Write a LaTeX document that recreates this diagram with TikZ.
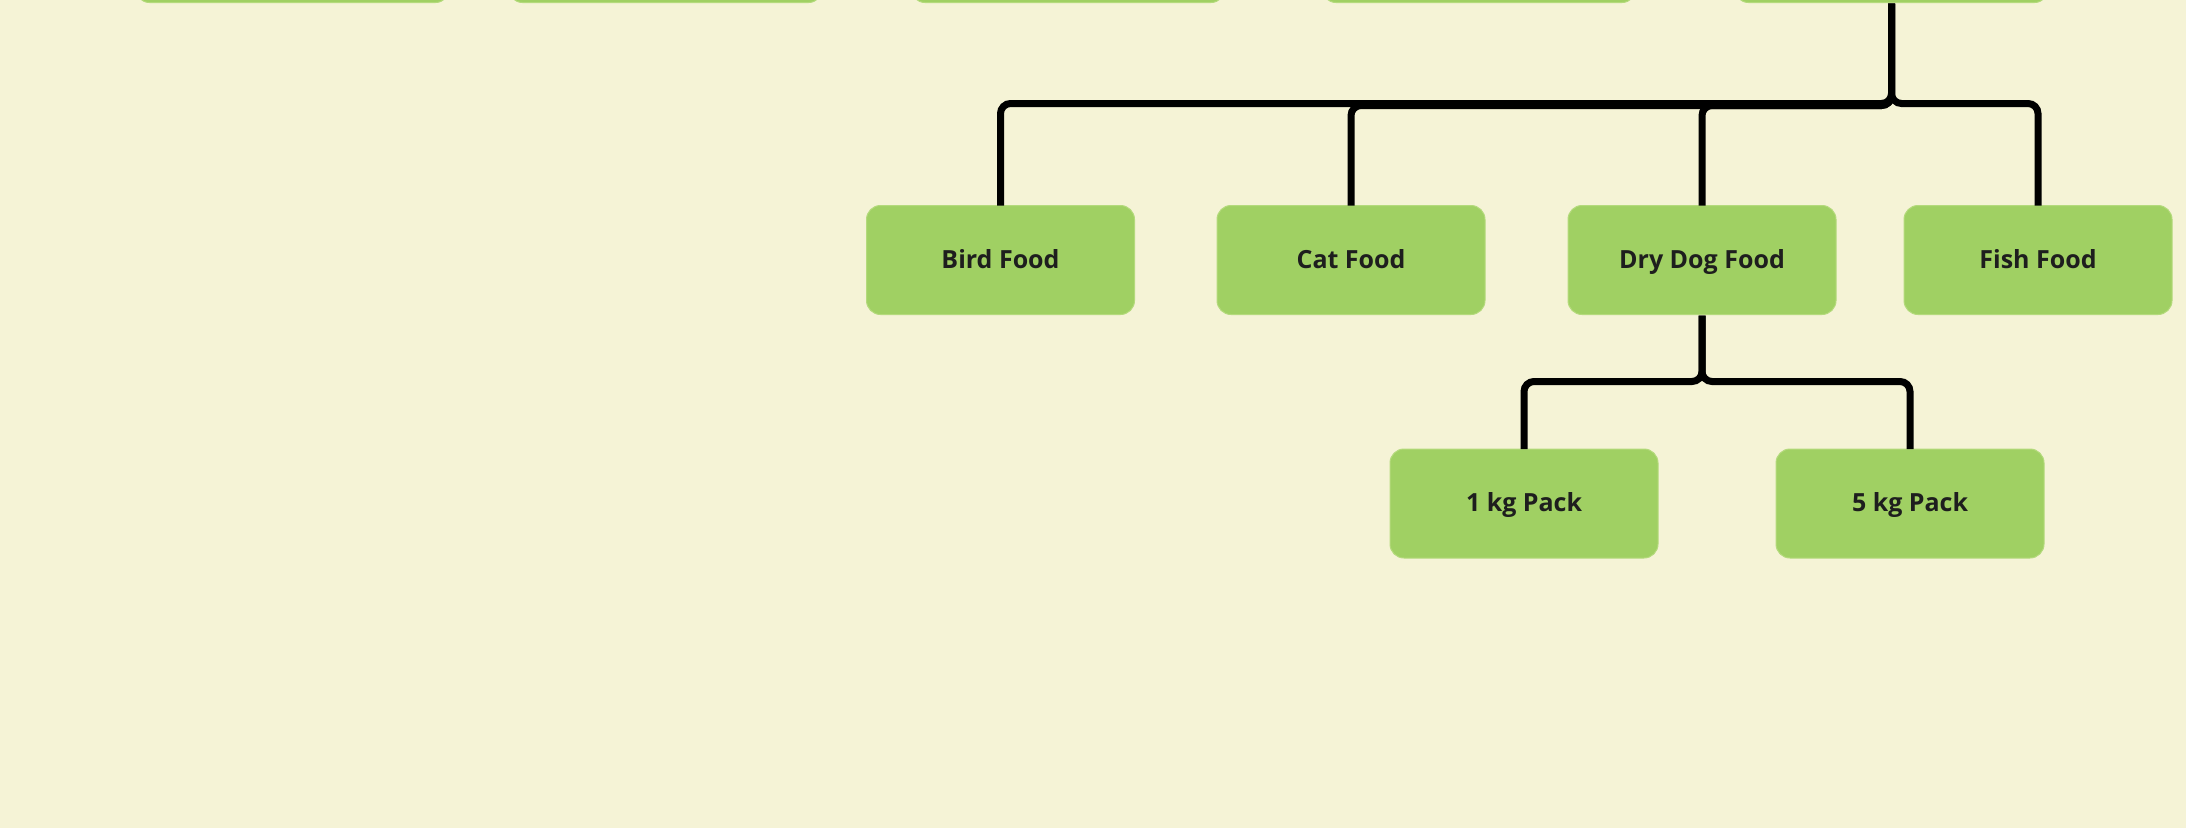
\documentclass[tikz,border=0pt]{standalone}
\usepackage{fontspec}
\setmainfont{Open Sans}
\definecolor{bg}{HTML}{F5F3D6}
\definecolor{boxgreen}{HTML}{A0D063}
\definecolor{boxedge}{HTML}{B4DA7C}
\definecolor{txt}{HTML}{1E1E1E}
\begin{document}
\begin{tikzpicture}[x=1pt,y=1pt,
  box/.style={draw=boxedge, line width=1pt, fill=boxgreen, rounded corners=14pt,
    minimum width=268pt, minimum height=109pt, outer sep=0pt, inner sep=0pt,
    text height=18pt, text depth=2pt,
    text=txt, font=\fontsize{25}{30}\selectfont\bfseries},
  topbox/.style={box, minimum width=314pt, anchor=south},
  conn/.style={draw=black, line width=7pt, rounded corners=10pt}]
\fill[bg] (0,0) rectangle (2186,-828);
\useasboundingbox (0,0) rectangle (2186,-828);
\clip (0,0) rectangle (2186,-828);
% top row (only bottoms visible)
\node[topbox] (p1) at (292.5,-2.5) {};
\node[topbox] (p2) at (665.5,-2.5) {};
\node[topbox] (p3) at (1068,-2.5) {};
\node[topbox] (p4) at (1479,-2.5) {};
\node[topbox] (p5) at (1891.5,-2.5) {};
% second level
\node[box] (bird) at (1000.5,-260) {Bird Food};
\node[box] (cat)  at (1351,-260) {Cat Food};
\node[box] (dog)  at (1702,-260) {Dry Dog Food};
\node[box] (fish) at (2038,-260) {Fish Food};
% third level
\node[box] (kg1) at (1524,-503.5) {1 kg Pack};
\node[box] (kg5) at (1910,-503.5) {5 kg Pack};
% connectors
\draw[conn] ([yshift=-1pt]p5.south) -- ++(0,-100) -| (bird.north);
\draw[conn] ([yshift=-1pt]p5.south) -- ++(0,-102) -| (cat.north);
\draw[conn] ([yshift=-1pt]p5.south) -- ++(0,-102) -| (dog.north);
\draw[conn] ([yshift=-1pt]p5.south) -- ++(0,-100) -| (fish.north);
\draw[conn] ([yshift=-1pt]dog.south) -- ++(0,-66) -| (kg1.north);
\draw[conn] ([yshift=-1pt]dog.south) -- ++(0,-66) -| (kg5.north);
\end{tikzpicture}
\end{document}
